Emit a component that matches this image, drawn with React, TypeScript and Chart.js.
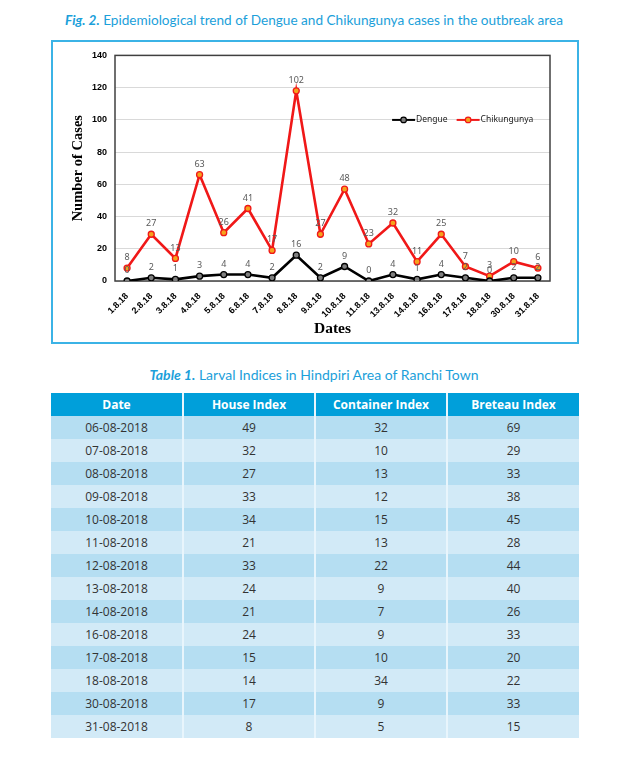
import React, { useEffect, useRef } from "react";
import { Chart, registerables } from "chart.js";

Chart.register(...registerables);

const dates = ["1.8.18", "2.8.18", "3.8.18", "4.8.18", "5.8.18", "6.8.18", "7.8.18", "8.8.18", "9.8.18", "10.8.18", "11.8.18", "13.8.18", "14.8.18", "16.8.18", "17.8.18", "18.8.18", "30.8.18", "31.8.18"];
const dengue = [0, 2, 1, 3, 4, 4, 2, 16, 2, 9, 0, 4, 1, 4, 2, 0, 2, 2];
const chikungunya = [8, 27, 13, 63, 26, 41, 17, 102, 27, 48, 23, 32, 11, 25, 7, 3, 10, 6];
const yTicks = [0, 20, 40, 60, 80, 100, 120, 140];

const tableHeaders = ["Date", "House Index", "Container Index", "Breteau Index"];
const tableDates = ["06-08-2018", "07-08-2018", "08-08-2018", "09-08-2018", "10-08-2018", "11-08-2018", "12-08-2018", "13-08-2018", "14-08-2018", "16-08-2018", "17-08-2018", "18-08-2018", "30-08-2018", "31-08-2018"];
const houseIndex = [49, 32, 27, 33, 34, 21, 33, 24, 21, 24, 15, 14, 17, 8];
const containerIndex = [32, 10, 13, 12, 15, 13, 22, 9, 7, 9, 10, 34, 9, 5];
const breteauIndex = [69, 29, 33, 38, 45, 28, 44, 40, 26, 33, 20, 22, 33, 15];

const BLUE = "#1ba0da";

const dataLabelPlugin = {
  id: "dataLabels",
  afterDatasetsDraw(chart: any) {
    const ctx = chart.ctx;
    ctx.save();
    ctx.font = "9px 'Noto Sans', sans-serif";
    ctx.fillStyle = "#595959";
    ctx.textAlign = "center";
    ctx.textBaseline = "bottom";
    chart.data.datasets.forEach((ds: any, i: number) => {
      const meta = chart.getDatasetMeta(i);
      meta.data.forEach((pt: any, j: number) => {
        ctx.fillText(String(ds.data[j]), pt.x, pt.y - 6);
      });
    });
    ctx.restore();
  },
};

const frameLegendPlugin = {
  id: "frameLegend",
  beforeDatasetsDraw(chart: any) {
    const { ctx, chartArea } = chart;
    ctx.save();
    ctx.strokeStyle = "#404040";
    ctx.lineWidth = 1.5;
    ctx.strokeRect(chartArea.left, chartArea.top, chartArea.right - chartArea.left, chartArea.bottom - chartArea.top);
    ctx.restore();
  },
  afterDraw(chart: any) {
    const { ctx, chartArea } = chart;
    const w = chartArea.right - chartArea.left;
    const h = chartArea.bottom - chartArea.top;
    let x = chartArea.left + 0.637 * w;
    const y = chartArea.top + 0.286 * h;
    ctx.save();
    ctx.font = "8.5px 'Noto Sans', sans-serif";
    ctx.textBaseline = "middle";
    ctx.textAlign = "left";
    chart.data.datasets.forEach((ds: any) => {
      ctx.strokeStyle = ds.borderColor;
      ctx.lineWidth = 2;
      ctx.beginPath();
      ctx.moveTo(x, y);
      ctx.lineTo(x + 23, y);
      ctx.stroke();
      ctx.beginPath();
      ctx.arc(x + 11.5, y, 2.8, 0, Math.PI * 2);
      ctx.fillStyle = ds.pointBackgroundColor;
      ctx.fill();
      ctx.lineWidth = 1.2;
      ctx.stroke();
      ctx.fillStyle = "#222";
      ctx.fillText(ds.label, x + 24, y);
      x += 24 + ctx.measureText(ds.label).width + 9;
    });
    ctx.restore();
  },
};

function TrendChart() {
  const ref = useRef<HTMLCanvasElement | null>(null);
  useEffect(() => {
    if (!ref.current) return;
    const chart = new Chart(ref.current, {
      type: "line",
      data: {
        labels: dates,
        datasets: [
          {
            label: "Dengue",
            data: dengue,
            borderColor: "#000000",
            backgroundColor: "#000000",
            pointBackgroundColor: "#7f7f7f",
            pointBorderColor: "#000000",
            pointRadius: 3,
            pointBorderWidth: 1.3,
            borderWidth: 2.6,
            tension: 0,
            fill: false,
          },
          {
            label: "Chikungunya",
            data: chikungunya,
            borderColor: "#f01818",
            backgroundColor: "#f01818",
            pointBackgroundColor: "#f5a21c",
            pointBorderColor: "#f01818",
            pointRadius: 3,
            pointBorderWidth: 1.3,
            borderWidth: 2.6,
            tension: 0,
            fill: false,
          },
        ],
      },
      options: {
        animation: false,
        responsive: true,
        maintainAspectRatio: false,
        layout: { padding: { left: 13, top: 12, right: 27, bottom: 1 } },
        plugins: {
          legend: { display: false },
          tooltip: { enabled: false },
        },
        scales: {
          x: {
            offset: true,
            grid: { display: false },
            border: { display: false },
            ticks: {
              minRotation: 45,
              maxRotation: 45,
              padding: 2,
              color: "#000",
              font: { family: "'Liberation Sans', Arial, sans-serif", size: 9, weight: "bold" },
            },
            title: {
              display: true,
              text: "Dates",
              color: "#000",
              padding: { top: 2, bottom: 3 },
              font: { family: "'Liberation Serif', 'Times New Roman', serif", size: 15.5, weight: "bold" },
            },
            afterFit(scale: any) {
              scale.height = 60;
            },
          },
          y: {
            stacked: true,
            min: 0,
            max: 140,
            afterBuildTicks(scale: any) {
              scale.ticks = yTicks.map((v) => ({ value: v }));
            },
            grid: { color: "#d9d9d9", lineWidth: 1, drawTicks: false },
            border: { display: false },
            ticks: {
              padding: 8,
              color: "#000",
              font: { family: "'Liberation Sans', Arial, sans-serif", size: 9, weight: "bold" },
            },
            title: {
              display: true,
              text: "Number of Cases",
              color: "#000",
              padding: { top: 4, bottom: 2 },
              font: { family: "'Liberation Serif', 'Times New Roman', serif", size: 14.5, weight: "bold" },
            },
            afterFit(scale: any) {
              scale.width = 49;
            },
          },
        },
      },
      plugins: [frameLegendPlugin, dataLabelPlugin],
    } as any);
    return () => chart.destroy();
  }, []);
  return (
    <div style={{ position: "absolute", left: 51, top: 40, width: 528, height: 304, boxSizing: "border-box", border: "2px solid #3bb3e6", background: "#fff" }}>
      <div style={{ position: "relative", width: 524, height: 300 }}>
        <canvas ref={ref} />
      </div>
    </div>
  );
}

function LarvalTable() {
  const rows = tableDates.map((d, i) => [d, houseIndex[i], containerIndex[i], breteauIndex[i]]);
  const cellBase: React.CSSProperties = {
    width: 132,
    height: 23,
    padding: 0,
    textAlign: "center",
    verticalAlign: "middle",
    boxSizing: "border-box",
  };
  return (
    <table
      style={{
        position: "absolute",
        left: 51,
        top: 393,
        width: 527,
        borderCollapse: "collapse",
        tableLayout: "fixed",
        fontFamily: "'Open Sans', sans-serif",
        fontSize: 12,
      }}
    >
      <thead>
        <tr>
          {tableHeaders.map((h, c) => (
            <th
              key={h}
              style={{
                ...cellBase,
                background: "#009fda",
                color: "#fff",
                fontWeight: "bold",
                borderLeft: c > 0 ? "2px solid #e8f5fc" : "none",
              }}
            >
              {h}
            </th>
          ))}
        </tr>
      </thead>
      <tbody>
        {rows.map((r, i) => (
          <tr key={i}>
            {r.map((v, c) => (
              <td
                key={c}
                style={{
                  ...cellBase,
                  background: i % 2 === 0 ? "#b5def2" : "#d2eaf7",
                  color: "#333",
                  borderLeft: c > 0 ? "2px solid #e8f5fc" : "none",
                }}
              >
                {v}
              </td>
            ))}
          </tr>
        ))}
      </tbody>
    </table>
  );
}

export default function App() {
  return (
    <div style={{ width: 628, height: 759 }}>
      <div
        style={{
          position: "absolute",
          left: 0,
          top: 12,
          width: 628,
          textAlign: "center",
          color: BLUE,
          fontFamily: "Lato, sans-serif",
          fontSize: 13.6,
          whiteSpace: "nowrap",
        }}
      >
        <span style={{ fontWeight: "bold", fontStyle: "italic" }}>Fig. 2.</span> Epidemiological trend of Dengue and Chikungunya cases in the outbreak area
      </div>
      <TrendChart />
      <div
        style={{
          position: "absolute",
          left: 0,
          top: 366,
          width: 628,
          textAlign: "center",
          color: BLUE,
          fontFamily: "Lato, sans-serif",
          fontSize: 14,
          whiteSpace: "nowrap",
        }}
      >
        <span style={{ fontWeight: "bold", fontStyle: "italic" }}>Table 1.</span> Larval Indices in Hindpiri Area of Ranchi Town
      </div>
      <LarvalTable />
    </div>
  );
}
